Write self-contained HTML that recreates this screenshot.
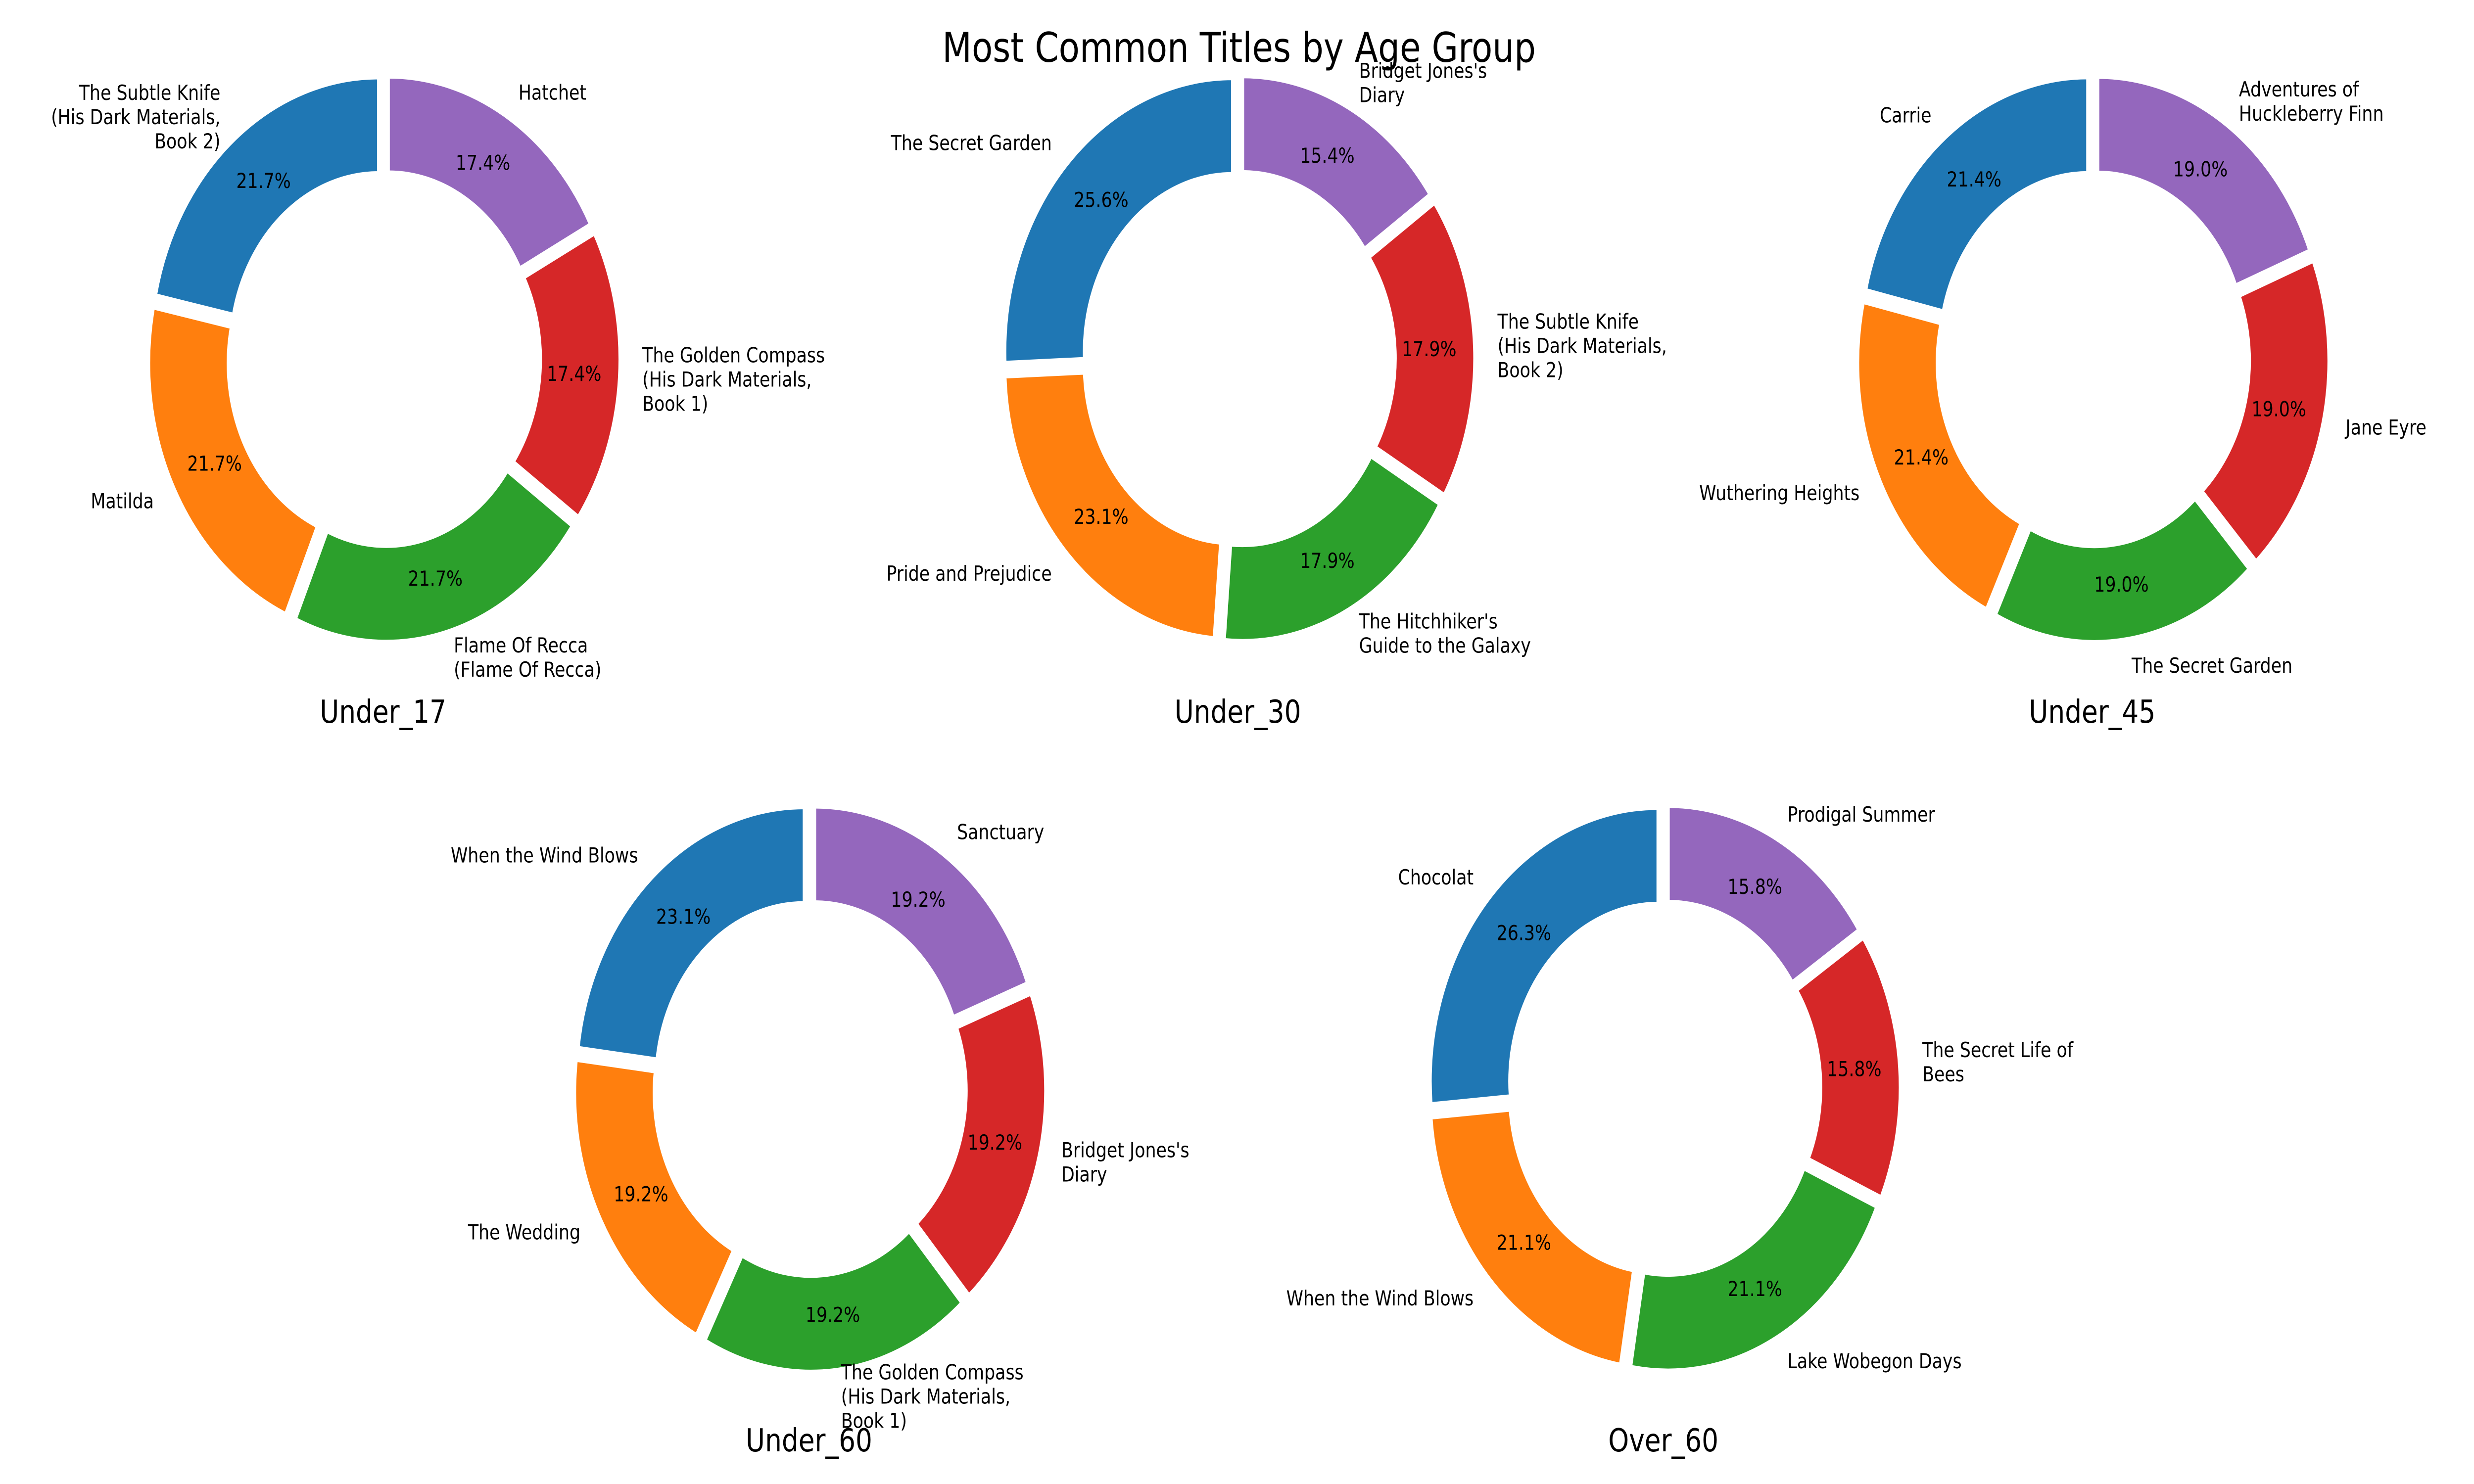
<!DOCTYPE html>
<html><head><meta charset="utf-8">
<meta name="viewport" content="width=device-width, initial-scale=1">
<style>
html,body{margin:0;padding:0;background:#fff;overflow:hidden;width:100%;height:100%;}
svg{display:block;width:100vw;height:100vh;}
text{font-family:"DejaVu Sans","Liberation Sans",sans-serif;fill:#000;}
</style></head>
<body>
<svg id="chart" viewBox="0 0 6000 3000" preserveAspectRatio="none" xmlns="http://www.w3.org/2000/svg">
<rect width="6000" height="3000" fill="#fff"/>
<g id="plots"></g>
<text x="3005" y="125" font-size="83" text-anchor="middle">Most Common Titles by Age Group</text>
</svg>
<script>
const groups = ["Under_17","Under_30","Under_45","Under_60","Over_60"];
const labelsU17 = ["The Subtle Knife\n(His Dark Materials,\nBook 2)","Matilda","Flame Of Recca\n(Flame Of Recca)","The Golden Compass\n(His Dark Materials,\nBook 1)","Hatchet"];
const valuesU17 = [5,5,5,4,4];
const labelsU30 = ["The Secret Garden","Pride and Prejudice","The Hitchhiker's\nGuide to the Galaxy","The Subtle Knife\n(His Dark Materials,\nBook 2)","Bridget Jones's\nDiary"];
const valuesU30 = [10,9,7,7,6];
const labelsU45 = ["Carrie","Wuthering Heights","The Secret Garden","Jane Eyre","Adventures of\nHuckleberry Finn"];
const valuesU45 = [9,9,8,8,8];
const labelsU60 = ["When the Wind Blows","The Wedding","The Golden Compass\n(His Dark Materials,\nBook 1)","Bridget Jones's\nDiary","Sanctuary"];
const valuesU60 = [6,5,5,5,5];
const labelsO60 = ["Chocolat","When the Wind Blows","Lake Wobegon Days","The Secret Life of\nBees","Prodigal Summer"];
const valuesO60 = [5,4,4,3,3];
const allLabels = [labelsU17,labelsU30,labelsU45,labelsU60,labelsO60];
const allValues = [valuesU17,valuesU30,valuesU45,valuesU60,valuesO60];

const colors = ["#1f77b4","#ff7f0e","#2ca02c","#d62728","#9467bd"];
const layout = [[931,725],[3004,725],[5076,725],[1964,2200],[4036,2200]];
const titleBase = [1461,1461,1461,2934,2934];
const R = 553, rIn = R*0.65, EXP = 20, LINE = 49;
const NS = "http://www.w3.org/2000/svg";
const root = document.getElementById("plots");

function mk(tag, attrs){const e=document.createElementNS(NS,tag);for(const k in attrs)e.setAttribute(k,attrs[k]);return e;}
function pt(cx,cy,r,a){return [cx+r*Math.cos(a), cy-r*Math.sin(a)];}

groups.forEach((g,gi)=>{
  const vals = allValues[gi], labs = allLabels[gi];
  const total = vals.reduce((a,b)=>a+b,0);
  const [cx0,cy0] = layout[gi];
  const grp = mk("g",{});
  
  
  root.appendChild(grp);
  let start = 90;
  vals.forEach((v,i)=>{
    const span = v/total*360;
    const a1 = start*Math.PI/180, a2 = (start+span)*Math.PI/180;
    const mid = (a1+a2)/2;
    const cx = cx0 + EXP*Math.cos(mid), cy = cy0 - EXP*Math.sin(mid);
    const large = span>180?1:0;
    const o1=pt(cx,cy,R,a1), o2=pt(cx,cy,R,a2), i2=pt(cx,cy,rIn,a2), i1=pt(cx,cy,rIn,a1);
    const d = `M${o1[0]},${o1[1]} A${R},${R} 0 ${large} 0 ${o2[0]},${o2[1]} L${i2[0]},${i2[1]} A${rIn},${rIn} 0 ${large} 1 ${i1[0]},${i1[1]} Z`;
    const p = mk("path",{d:d, fill:colors[i], stroke:"#fff","stroke-width":8,"stroke-linejoin":"miter"});
    
    
    grp.appendChild(p);
    const pp = pt(cx,cy,R*0.8,mid);
    const pt_ = mk("text",{x:pp[0],y:pp[1],"font-size":41.7,"text-anchor":"middle","dominant-baseline":"central"});
    pt_.textContent = (v/total*100).toFixed(1)+"%";
    
    
    grp.appendChild(pt_);
    const lp = pt(cx,cy,R*1.1,mid);
    const lines = labs[i].split("\n");
    const anchor = Math.cos(mid) >= 0 ? "start" : "end";
    const lt = mk("text",{"font-size":41.7,"text-anchor":anchor});
    
    
    const y0 = lp[1] - (lines.length-1)*LINE/2;
    lines.forEach((ln,k)=>{
      const ts = mk("tspan",{x:lp[0], y:y0+k*LINE, "dominant-baseline":"central"});
      ts.textContent = ln;
      lt.appendChild(ts);
    });
    grp.appendChild(lt);
    start += span;
  });
  const tt = mk("text",{x:cx0-2,y:titleBase[gi],"font-size":64,"text-anchor":"middle"});
  tt.textContent = g;
  
  
  grp.appendChild(tt);
});
</script>
</body></html>
